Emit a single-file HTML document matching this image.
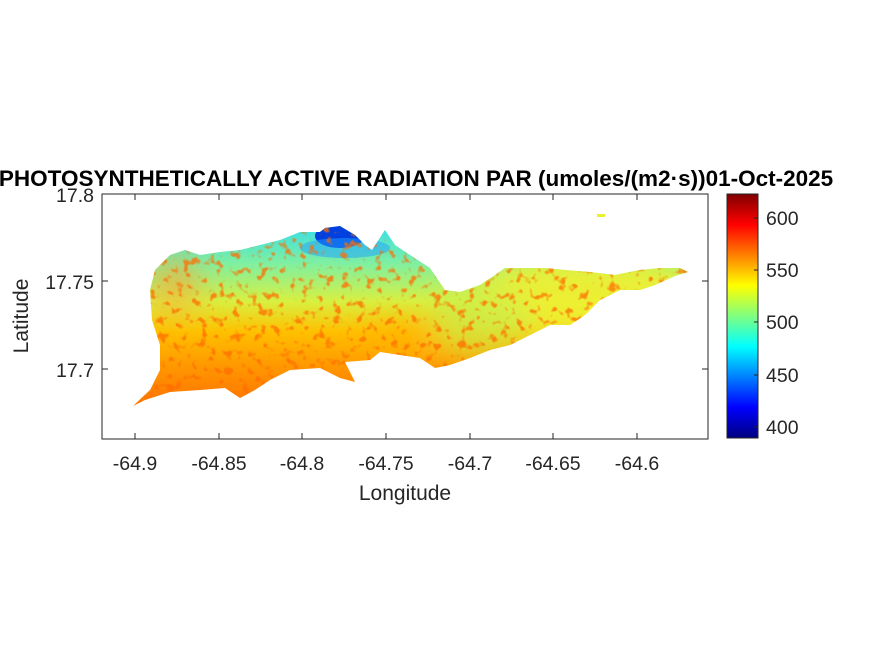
<!DOCTYPE html>
<html><head><meta charset="utf-8"><style>
body{margin:0;background:#fff;}
svg text{font-family:"Liberation Sans",sans-serif;fill:#262626;}
</style></head><body>
<svg width="875" height="656" viewBox="0 0 875 656" xmlns="http://www.w3.org/2000/svg">
<defs>
<linearGradient id="ig" gradientUnits="userSpaceOnUse" x1="0" y1="230" x2="0" y2="400">
<stop offset="0" stop-color="#40e0e0"/>
<stop offset="0.2" stop-color="#80f0a0"/>
<stop offset="0.42" stop-color="#d8f040"/>
<stop offset="0.6" stop-color="#ffc000"/>
<stop offset="0.8" stop-color="#ff9800"/>
<stop offset="1" stop-color="#ff7800"/>
</linearGradient>
<linearGradient id="cb" x1="0" y1="1" x2="0" y2="0">
<stop offset="0" stop-color="#000080"/>
<stop offset="0.125" stop-color="#0000ff"/>
<stop offset="0.375" stop-color="#00ffff"/>
<stop offset="0.625" stop-color="#ffff00"/>
<stop offset="0.875" stop-color="#ff0000"/>
<stop offset="1" stop-color="#800000"/>
</linearGradient>
<filter id="bl"><feGaussianBlur stdDeviation="15"/></filter>
<filter id="tx"><feTurbulence type="fractalNoise" baseFrequency="0.12" numOctaves="2" seed="3"/><feColorMatrix type="matrix" values="0 0 0 0 1  0 0 0 0 0.15  0 0 0 0 0  0 0 0 6 -3.4"/><feComposite in2="SourceGraphic" operator="in"/></filter>
<clipPath id="cp"><path d="M133,406 L150,390 L160,370 L160,345 L152,320 L150,290 L155,270 L170,255 L185,250 L200,255 L220,252 L240,250 L260,245 L280,240 L300,232 L320,232 L325,228 L340,226 L355,235 L365,245 L372,250 L385,230 L395,245 L410,255 L430,268 L445,290 L460,292 L480,285 L495,275 L505,268 L520,268 L545,268 L565,270 L590,272 L615,275 L640,270 L660,268 L680,268 L688,272 L675,276 L655,285 L640,290 L620,290 L600,300 L585,315 L570,325 L550,325 L530,335 L510,345 L490,350 L470,358 L450,365 L435,368 L420,358 L400,355 L380,352 L370,360 L345,362 L355,382 L340,378 L320,368 L290,370 L270,380 L255,390 L240,398 L225,388 L200,390 L170,392 L145,400 Z"/></clipPath>
</defs>
<g clip-path="url(#cp)">
<rect x="100" y="220" width="600" height="200" fill="url(#ig)"/>
<g filter="url(#bl)">
<ellipse cx="590" cy="295" rx="120" ry="45" fill="#f0f030" opacity="0.9"/>
<ellipse cx="480" cy="320" rx="50" ry="35" fill="#c8f050" opacity="0.7"/>
<ellipse cx="175" cy="285" rx="25" ry="30" fill="#ffa030" opacity="0.6"/>
<ellipse cx="400" cy="340" rx="40" ry="15" fill="#ffb000" opacity="0.7"/>
</g>
<ellipse cx="340" cy="236" rx="25" ry="12" fill="#0040e0"/>
<ellipse cx="345" cy="248" rx="45" ry="10" fill="#20a0ff" opacity="0.5"/>
<rect x="100" y="220" width="600" height="200" fill="#fff" filter="url(#tx)" opacity="0.75"/>
</g>
<rect x="597" y="214" width="8" height="3" fill="#e8f030"/>
<rect x="102" y="194" width="606" height="245" fill="none" stroke="#262626" stroke-width="1"/>
<g stroke="#262626">
<line x1="135" y1="439" x2="135" y2="433"/><line x1="219" y1="439" x2="219" y2="433"/><line x1="302" y1="439" x2="302" y2="433"/><line x1="386" y1="439" x2="386" y2="433"/><line x1="470" y1="439" x2="470" y2="433"/><line x1="553" y1="439" x2="553" y2="433"/><line x1="637" y1="439" x2="637" y2="433"/>
<line x1="135" y1="194" x2="135" y2="200"/><line x1="219" y1="194" x2="219" y2="200"/><line x1="302" y1="194" x2="302" y2="200"/><line x1="386" y1="194" x2="386" y2="200"/><line x1="470" y1="194" x2="470" y2="200"/><line x1="553" y1="194" x2="553" y2="200"/><line x1="637" y1="194" x2="637" y2="200"/>
<line x1="102" y1="281" x2="108" y2="281"/><line x1="102" y1="369" x2="108" y2="369"/>
<line x1="708" y1="281" x2="702" y2="281"/><line x1="708" y1="369" x2="702" y2="369"/>
</g>
<g font-size="19.5" text-anchor="middle">
<text x="135" y="470">-64.9</text><text x="219" y="470">-64.85</text><text x="302" y="470">-64.8</text><text x="386" y="470">-64.75</text><text x="470" y="470">-64.7</text><text x="553" y="470">-64.65</text><text x="637" y="470">-64.6</text>
</g>
<g font-size="19.5" text-anchor="end">
<text x="94" y="202">17.8</text><text x="94" y="289">17.75</text><text x="94" y="377">17.7</text>
</g>
<text x="405" y="500" font-size="21" text-anchor="middle">Longitude</text>
<text transform="translate(28,316) rotate(-90)" font-size="21" text-anchor="middle">Latitude</text>
<text x="416" y="186" font-size="22.5" font-weight="bold" text-anchor="middle" style="fill:#000">PHOTOSYNTHETICALLY ACTIVE RADIATION PAR (umoles/(m2·s))01-Oct-2025</text>
<rect x="727" y="194" width="31" height="244" fill="url(#cb)" stroke="#262626" stroke-width="1"/>
<g stroke="#262626"><line x1="758" y1="218" x2="754" y2="218"/><line x1="758" y1="270" x2="754" y2="270"/><line x1="758" y1="322" x2="754" y2="322"/><line x1="758" y1="375" x2="754" y2="375"/><line x1="758" y1="427" x2="754" y2="427"/></g>
<g font-size="19.5"><text x="766" y="225">600</text><text x="766" y="277">550</text><text x="766" y="329">500</text><text x="766" y="382">450</text><text x="766" y="434">400</text></g>
</svg>
</body></html>
